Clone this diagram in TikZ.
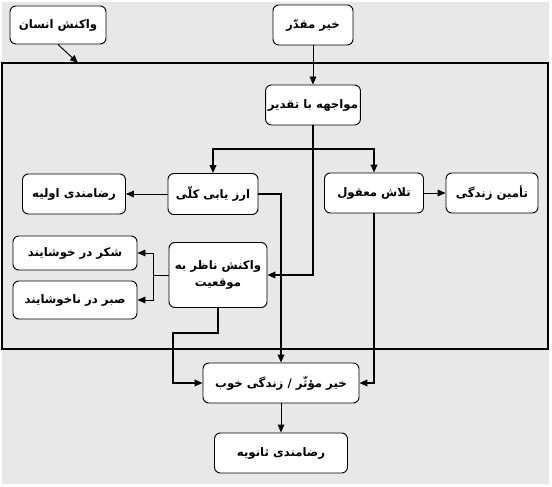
\documentclass[tikz,border=0pt]{standalone}
\usepackage{fontspec}
\usepackage{tikz}
\usetikzlibrary{arrows.meta, positioning, calc}
\usepackage{xcolor}
\TeXXeTstate=1
\newfontfamily\arabicfont[Script=Arabic]{DejaVu Sans}
\definecolor{panelgray}{HTML}{E8E8E8}

\begin{document}
\begin{tikzpicture}[
        >={Triangle[length=2.4mm, width=2mm]},
        box/.style={rectangle, draw=black, fill=white, line width=0.8pt, minimum height=1.2cm, inner xsep=2pt, rounded corners=5pt, align=center, font=\arabicfont\bfseries\fontsize{10}{15}\selectfont},
        flow/.style={->, line width=1.4pt},
        thin flow/.style={->, line width=0.8pt}
    ]
        \useasboundingbox (0, 0) rectangle (16.56, -14.61);
        \fill[panelgray] (0.06, -0.06) rectangle (16.47, -14.52);

        % Frame
        \draw[line width=1.5pt] (0.06, -1.89) rectangle (16.44, -10.47);
        \coordinate (frametop) at (2.34, -1.89);

        % Top row
        \node[box, minimum width=2.88cm, minimum height=1.14cm] (insan) at (1.74, -0.75) {\beginR واکنش انسان\endR};
        \node[box, minimum width=2.4cm] (moqaddar) at (9.39, -0.75) {\beginR خیر مقدّر\endR};

        % Inside the frame
        \node[box, minimum width=2.82cm] (movajehe) at (9.39, -3.15) {\beginR مواجهه با تقدیر\endR};
        \node[box, minimum width=2.7cm, minimum height=1.23cm] (arzyabi) at (6.39, -5.82) {\beginR ارز یابی کلّی\endR};
        \node[box, minimum width=3.09cm] (avalie) at (2.22, -5.82) {\beginR رضامندی اولیه\endR};
        \node[box, minimum width=2.97cm] (tallash) at (11.22, -5.79) {\beginR تلاش معقول\endR};
        \node[box, minimum width=2.76cm] (tamin) at (14.76, -5.79) {\beginR تأمین زندگی\endR};
        \node[box, minimum width=2.94cm, minimum height=1.95cm] (vakonesh) at (6.54, -8.25) {\beginR واکنش ناظر به\endR\\\beginR موقعیت\endR};
        \node[box, minimum width=3.72cm, minimum height=1.02cm] (shokr) at (2.25, -7.59) {\beginR شکر در خوشایند\endR};
        \node[box, minimum width=3.72cm, minimum height=1.14cm] (sabr) at (2.25, -9.0) {\beginR صبر در ناخوشایند\endR};

        % Below the frame
        \node[box, minimum width=4.68cm] (moasser) at (8.43, -11.49) {\beginR خیر مؤثّر / زندگی خوب\endR};
        \node[box, minimum width=3.99cm] (sanavie) at (8.43, -13.59) {\beginR رضامندی ثانویه\endR};

        \coordinate (split) at (9.39, -4.47);
        \coordinate (fork) at (4.59, -8.25);
        \coordinate (bend) at (5.19, -9.99);

        % Connectors
        \draw[thin flow] (insan.south) -- (frametop);
        \draw[thin flow] (moqaddar) -- (movajehe);
        \draw[line width=1.4pt] (movajehe.south) -- (split);
        \draw[flow] (split) -| (arzyabi.north);
        \draw[flow] (split) -| (tallash.north);
        \draw[flow] (split) |- (vakonesh.east);
        \draw[thin flow] (arzyabi) -- (avalie);
        \draw[flow] (arzyabi.east) -| (moasser.north);
        \draw[thin flow] (tallash) -- (tamin);
        \draw[flow] (tallash.south) |- (moasser.east);
        \draw[line width=0.8pt] (vakonesh.west) -- (fork);
        \draw[thin flow] (fork) |- (shokr.east);
        \draw[thin flow] (fork) |- (sabr.east);
        \draw[flow] (vakonesh.south) |- (bend) |- (moasser.west);
        \draw[thin flow] (moasser) -- (sanavie);

    \end{tikzpicture}
\end{document}
